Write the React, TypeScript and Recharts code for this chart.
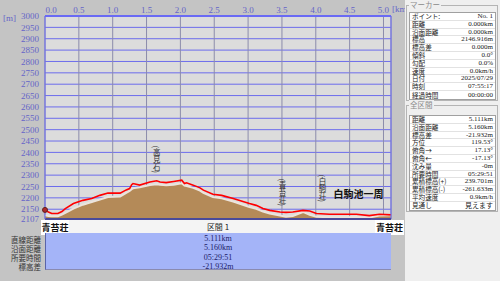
import {
  ComposedChart,
  Area,
  Line,
  XAxis,
  YAxis,
  CartesianGrid,
  ReferenceLine,
  ReferenceDot,
} from "recharts";

// distance along the route (km), GPS track elevation and ground elevation (m)
const KM = [
  0, 0.05, 0.1, 0.19, 0.25, 0.3, 0.42, 0.56, 0.69, 0.81, 0.93, 1.11, 1.2, 1.25, 1.28, 1.3,
  1.4, 1.55, 1.65, 1.7, 1.79, 1.9, 2.02, 2.06, 2.09, 2.19, 2.29, 2.34, 2.48, 2.61, 2.78,
  3.02, 3.12, 3.22, 3.32, 3.47, 3.56, 3.66, 3.81, 3.91, 4.01, 4.2, 4.4, 4.6, 4.79, 4.94, 5.111,
];
const TRACK = [
  2147, 2138, 2131, 2131, 2140, 2153, 2175, 2189, 2197, 2211, 2221, 2221, 2235, 2241, 2258, 2263,
  2256, 2270, 2275, 2270, 2267, 2272, 2278, 2263, 2266, 2256, 2244, 2234, 2216, 2211, 2197,
  2175, 2167, 2153, 2145, 2138, 2136, 2138, 2145, 2142, 2131, 2128, 2128, 2128, 2122, 2128, 2125,
];
const GROUND = [
  2123, 2120, 2119, 2119, 2126, 2134, 2153, 2170, 2182, 2193, 2204, 2206, 2222, 2230, 2238, 2242,
  2247, 2256, 2260, 2258, 2256, 2258, 2264, 2254, 2252, 2244, 2232, 2222, 2204, 2198, 2184,
  2160, 2152, 2140, 2131, 2122, 2117, 2120, 2138, 2125, 2117, 2115, 2115, 2116, 2114, 2122, 2124,
];

const X_TICKS = [0, 0.5, 1, 1.5, 2, 2.5, 3, 3.5, 4, 4.5, 5];
const Y_TICKS = [
  2107, 2150, 2200, 2250, 2300, 2350, 2400, 2450, 2500, 2550, 2600, 2650, 2700, 2750, 2800,
  2850, 2900, 2950, 3000,
];

// waypoints shown as vertical labels
const WP_KM = [1.65, 3.51, 4.1];
const WP_ELEV = [2370, 2225, 2242];
const WP_NAME = ["(高見石)", "(青苔荘)", "(白駒荘)"];

const SECTION_LABELS = ["直線距離", "沿面距離", "所要時間", "標高差"];
const SECTION_VALUES = ["5.111km", "5.160km", "05:29:51", "-21.932m"];

const MARKER_LABELS = ["ポイント:", "距離", "沿面距離", "標高", "標高差", "傾斜", "勾配", "速度", "日付", "時刻", "経過時間"];
const MARKER_VALUES = ["No. 1", "0.000km", "0.000km", "2146.916m", "0.000m", "0.0°", "0.0%", "0.0km/h", "2025/07/29", "07:55:17", "00:00:00"];
const TOTAL_LABELS = ["距離", "沿面距離", "標高差", "方位", "俯角→", "俯角←", "沈み量", "所要時間", "累積標高(+)", "累積標高(-)", "平均速度", "見通し"];
const TOTAL_VALUES = ["5.111km", "5.160km", "-21.932m", "119.53°", "17.13°", "-17.13°", "-0m", "05:29:51", "239.701m", "-261.633m", "0.9km/h", "見えます"];

const data = KM.map((km, i) => ({ km, track: TRACK[i], ground: GROUND[i] }));

const AXIS_BLUE = "#6464c8";
const JP = "'Noto Sans CJK JP', sans-serif";
const SERIF = "'Liberation Serif', serif";

const XTick = (props: any) => {
  const { x, y, payload } = props;
  return (
    <text
      x={x + (payload.value === 0 ? 6 : 0)}
      y={y}
      textAnchor="middle"
      fontSize={9}
      fontFamily={SERIF}
      fill={AXIS_BLUE}
    >
      {payload.value.toFixed(1)}
    </text>
  );
};

const VerticalName = (props: any) => (
  <text
    x={props.cx}
    y={props.cy}
    textAnchor="middle"
    fontSize={7.5}
    fontFamily={JP}
    fill="#333"
    style={{ writingMode: "vertical-rl" }}
  >
    {props.name}
  </text>
);

const InfoTable = ({ labels, values, top }: { labels: string[]; values: string[]; top: number }) => (
  <div
    style={{
      position: "absolute",
      left: 409,
      top,
      width: 87,
      background: "#fff",
      border: "1px solid #a0a0a0",
      boxSizing: "border-box",
    }}
  >
    {labels.map((l, i) => (
      <div
        key={l + i}
        style={{
          height: 7.8,
          display: "flex",
          alignItems: "center",
          justifyContent: "space-between",
          borderBottom: i < labels.length - 1 ? "1px solid #e2e2e2" : "none",
          boxSizing: "border-box",
          padding: "0 2px",
        }}
      >
        <span style={{ fontFamily: JP, fontSize: 6.6, lineHeight: "6.6px", color: "#222" }}>{l}</span>
        <span style={{ fontFamily: values[i] === "見えます" ? JP : SERIF, fontSize: 7, lineHeight: "6.6px", color: "#222" }}>
          {values[i]}
        </span>
      </div>
    ))}
  </div>
);

export default function App() {
  return (
    <div
      style={{
        position: "absolute",
        left: 0,
        top: 0,
        width: 500,
        height: 281,
        background: "#c4c4c4",
        overflow: "hidden",
      }}
    >
      <ComposedChart
        width={405}
        height={281}
        data={data}
        margin={{ top: 0, right: 14, bottom: 62, left: 0 }}
        style={{ position: "absolute", left: 0, top: 0 }}
      >
        <CartesianGrid vertical={false} stroke="#6c6cec" fill="#dcdcdc" strokeOpacity={1} />
        <CartesianGrid horizontal={false} stroke="#8c8cac" />
        <XAxis
          dataKey="km"
          type="number"
          orientation="top"
          domain={[0, 5.111]}
          ticks={X_TICKS}
          height={16}
          tickSize={0}
          tickMargin={3}
          tick={<XTick />}
          axisLine={{ stroke: "#6a6af4", strokeWidth: 2 }}
          interval={0}
        />
        <YAxis
          type="number"
          domain={[2107, 3000]}
          ticks={Y_TICKS}
          width={45}
          tickSize={0}
          tickMargin={6}
          interval={0}
          allowDataOverflow
          axisLine={{ stroke: "#6a6af4" }}
          tick={{ fontSize: 9, fontFamily: SERIF, fill: AXIS_BLUE }}
        />
        <Area
          type="linear"
          dataKey="ground"
          fill="#b48a58"
          fillOpacity={1}
          stroke="#ece4dc"
          strokeWidth={2}
          isAnimationActive={false}
        />
        <Line
          type="linear"
          dataKey="track"
          stroke="#ff0000"
          strokeWidth={1.6}
          dot={false}
          isAnimationActive={false}
        />
        <ReferenceLine x={5.111} stroke="#6a6af4" strokeWidth={1} />
        <ReferenceLine y={2107} stroke="#4a4a9a" strokeWidth={2} />
        <ReferenceDot x={0} y={2147} r={2.5} fill="#b02828" stroke="#602020" isFront />
        {WP_KM.map((k, i) => (
          <ReferenceDot
            key={WP_NAME[i]}
            x={k}
            y={WP_ELEV[i]}
            r={0}
            isFront
            shape={(p: any) => <VerticalName cx={p.cx} cy={p.cy} name={WP_NAME[i]} />}
          />
        ))}
        <ReferenceDot
          x={4.63}
          y={2220}
          r={0}
          isFront
          shape={(p: any) => (
            <text
              x={p.cx}
              y={p.cy}
              textAnchor="middle"
              dominantBaseline="central"
              fontSize={10}
              fontWeight="bold"
              fontFamily={JP}
              fill="#111"
            >
              白駒池一周
            </text>
          )}
        />
      </ComposedChart>

      {/* axis unit labels */}
      <div style={{ position: "absolute", left: 3, top: 13, fontSize: 9, fontFamily: SERIF, color: AXIS_BLUE }}>[m]</div>
      <div style={{ position: "absolute", left: 392, top: 4, fontSize: 9, fontFamily: SERIF, color: AXIS_BLUE }}>[km]</div>

      {/* section strip */}
      <div style={{ position: "absolute", left: 45, top: 220, width: 346, height: 13, background: "#f4f4f4" }} />
      <div style={{ position: "absolute", left: 200, top: 220, width: 36, height: 13, textAlign: "center", fontFamily: JP, fontSize: 8, lineHeight: "13px", color: "#222" }}>
        区間 1
      </div>
      <div style={{ position: "absolute", left: 41, top: 220, width: 28, height: 15, background: "#fff", fontFamily: JP, fontSize: 9, fontWeight: "bold", lineHeight: "15px", textAlign: "center", color: "#111" }}>
        青苔荘
      </div>
      <div style={{ position: "absolute", left: 375, top: 220, width: 29, height: 15, background: "#fff", fontFamily: JP, fontSize: 9, fontWeight: "bold", lineHeight: "15px", textAlign: "center", color: "#111" }}>
        青苔荘
      </div>

      {/* section info panel */}
      <div
        style={{
          position: "absolute",
          left: 45,
          top: 233,
          width: 346,
          height: 37,
          background: "#a4b4f8",
          borderLeft: "1px solid #5a64a8",
          borderBottom: "1px solid #8a8ab0",
          boxSizing: "border-box",
        }}
      />
      {SECTION_LABELS.map((l, i) => (
        <div
          key={l}
          style={{ position: "absolute", left: 0, width: 41, top: 234.5 + i * 9.3, height: 9, lineHeight: "9px", textAlign: "right", fontFamily: JP, fontSize: 7.5, color: "#333" }}
        >
          {l}
        </div>
      ))}
      {SECTION_VALUES.map((v, i) => (
        <div
          key={v}
          style={{ position: "absolute", left: 168, width: 100, top: 234 + i * 9.3, height: 9, lineHeight: "9px", textAlign: "center", fontFamily: SERIF, fontSize: 8, color: "#202068" }}
        >
          {v}
        </div>
      ))}

      {/* right info panel */}
      <div style={{ position: "absolute", left: 405, top: 0, width: 95, height: 281, background: "#efefef" }} />
      <div style={{ position: "absolute", left: 406, top: 5, width: 92, height: 96, border: "1px solid #b4b4b4", boxSizing: "border-box" }} />
      <div style={{ position: "absolute", left: 409, top: 0, padding: "0 1px", background: "#efefef", fontFamily: JP, fontSize: 7.5, lineHeight: "10px", color: "#8a8a8a" }}>
        マーカー
      </div>
      <InfoTable labels={MARKER_LABELS} values={MARKER_VALUES} top={12} />
      <div style={{ position: "absolute", left: 406, top: 105, width: 92, height: 107, border: "1px solid #b4b4b4", boxSizing: "border-box" }} />
      <div style={{ position: "absolute", left: 409, top: 100, padding: "0 1px", background: "#efefef", fontFamily: JP, fontSize: 7.5, lineHeight: "10px", color: "#8a8a8a" }}>
        全区間
      </div>
      <InfoTable labels={TOTAL_LABELS} values={TOTAL_VALUES} top={115} />
    </div>
  );
}
